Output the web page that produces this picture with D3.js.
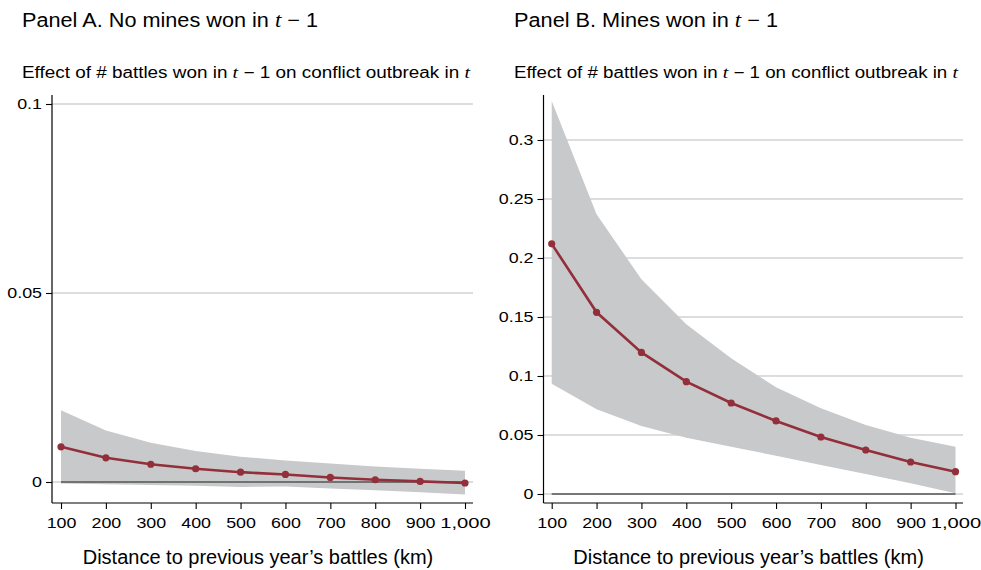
<!DOCTYPE html>
<html><head><meta charset="utf-8">
<script src="https://cdn.jsdelivr.net/npm/d3@7"></script>
<style>body{margin:0;background:#fff}svg{display:block}</style>
</head><body>
<script>
const distances = [100,200,300,400,500,600,700,800,900,1000];
const estA = [0.0093,0.0064,0.0047,0.0035,0.0026,0.0020,0.0012,0.0006,0.00016,-0.00026];
const upA  = [0.0190,0.0136,0.0104,0.0082,0.0067,0.0057,0.0049,0.0041,0.0035,0.0030];
const loA  = [-0.0004,-0.0006,-0.0008,-0.0010,-0.0013,-0.0012,-0.0017,-0.0022,-0.0027,-0.0033];
const estB = [0.212,0.154,0.120,0.0952,0.0771,0.0619,0.0483,0.0373,0.0271,0.0189];
const upB  = [0.333,0.237,0.182,0.1438,0.115,0.0904,0.0726,0.0585,0.0477,0.0401];
const loB  = [0.0935,0.0718,0.0576,0.0477,0.040,0.0325,0.0246,0.0169,0.0091,0.0006];
const yTicksA = [0,0.05,0.1];
const yTicksB = [0,0.05,0.1,0.15,0.2,0.25,0.3];
const xTicks = distances;

const W=981,H=570;
const svg=d3.select("body").append("svg").attr("width",W).attr("height",H);
const FONT="'Liberation Sans', Arial, Helvetica, sans-serif";
const SERIF="'Liberation Serif','DejaVu Serif',serif";

function drawPanel(o){
  const g=svg.append("g");
  const x=d3.scaleLinear().domain([100,1000]).range([o.x0,o.x1]);
  const y=d3.scaleLinear().domain(o.ydom).range(o.yrange);
  const axisTop=95, axisBot=503;
  // title
  const t=g.append("text").attr("x",o.tx).attr("y",27).attr("font-family",FONT).attr("font-size",20).attr("fill","#000")
    .attr("textLength",o.tw).attr("lengthAdjust","spacingAndGlyphs");
  t.append("tspan").text(o.title+" ");
  t.append("tspan").attr("font-family",SERIF).attr("font-style","italic").attr("font-size",21).text("t");
  t.append("tspan").text(" \u2212 1");
  const s=g.append("text").attr("x",o.tx).attr("y",78).attr("font-family",FONT).attr("font-size",16).attr("fill","#000")
    .attr("textLength",o.sw).attr("lengthAdjust","spacingAndGlyphs");
  s.append("tspan").text("Effect of # battles won in ");
  s.append("tspan").attr("font-family",SERIF).attr("font-style","italic").attr("font-size",17).text("t");
  s.append("tspan").text(" \u2212 1 on conflict outbreak in ");
  s.append("tspan").attr("font-family",SERIF).attr("font-style","italic").attr("font-size",17).text("t");
  // gridlines
  g.selectAll(".grid").data(o.yticks).join("line")
    .attr("x1",o.ax).attr("x2",o.xend).attr("y1",d=>y(d)).attr("y2",d=>y(d))
    .attr("stroke","#d2d2d2").attr("stroke-width",1.3);
  // band
  const data=distances.map((d,i)=>({d,e:o.est[i],u:o.up[i],l:o.lo[i]}));
  g.append("path").datum(data)
    .attr("d",d3.area().x(d=>x(d.d)).y0(d=>y(d.l)).y1(d=>y(d.u)))
    .attr("fill","#c8c9cb");
  // zero line
  g.append("line").attr("x1",x(100)).attr("x2",x(1000)).attr("y1",y(0)).attr("y2",y(0))
    .attr("stroke","#555").attr("stroke-width",1.3);
  // estimate line
  g.append("path").datum(data)
    .attr("d",d3.line().x(d=>x(d.d)).y(d=>y(d.e)))
    .attr("fill","none").attr("stroke","#922f3a").attr("stroke-width",2.6);
  g.selectAll(".pt").data(data).join("circle")
    .attr("cx",d=>x(d.d)).attr("cy",d=>y(d.e)).attr("r",3.6).attr("fill","#922f3a");
  // axes
  const ya=d3.axisLeft(y).tickValues(o.yticks).tickSize(6).tickPadding(4).tickFormat(d=>d===0?"0":String(d));
  const yg=g.append("g").attr("transform",`translate(${o.ax},0)`).call(ya);
  yg.select(".domain").remove();
  g.append("line").attr("x1",o.ax).attr("x2",o.ax).attr("y1",axisTop).attr("y2",axisBot).attr("stroke","#000").attr("stroke-width",1.2);
  const xa=d3.axisBottom(x).tickValues(xTicks).tickSize(6).tickPadding(8).tickFormat(d3.format(","));
  const xg=g.append("g").attr("transform",`translate(0,${axisBot})`).call(xa);
  xg.select(".domain").remove();
  g.append("line").attr("x1",o.ax).attr("x2",o.xend).attr("y1",axisBot).attr("y2",axisBot).attr("stroke","#000").attr("stroke-width",1.2);
  [yg,xg].forEach(a=>{
    a.attr("font-size",15.5).attr("font-family",FONT);
    a.selectAll("text").attr("font-family",FONT).attr("font-size",15.5).attr("fill","#000")
      .each(function(d){
        const w=this.getComputedTextLength();
        const f=(String(d).length>=4 && d>=1000)?1.3:1.15;
        d3.select(this).attr("textLength",w*f).attr("lengthAdjust","spacingAndGlyphs");
      });
    a.selectAll(".tick line").attr("stroke","#000").attr("stroke-width",1.1);
  });
  g.append("text").attr("x",(o.x0+o.x1)/2-5).attr("y",564).attr("text-anchor","middle")
    .attr("font-family",FONT).attr("font-size",20).attr("fill","#000")
    .text("Distance to previous year\u2019s battles (km)");
}

drawPanel({title:"Panel A. No mines won in",tx:22,tw:296,sw:448,x0:61,x1:465,ax:52,xend:473,
  ydom:[0,0.1],yrange:[482,104],yticks:yTicksA,est:estA,up:upA,lo:loA});
drawPanel({title:"Panel B. Mines won in",tx:514,tw:264,sw:444,x0:551.7,x1:955.5,ax:543.5,xend:963,
  ydom:[0,0.3],yrange:[494,140],yticks:yTicksB,est:estB,up:upB,lo:loB});
</script>
</body></html>
